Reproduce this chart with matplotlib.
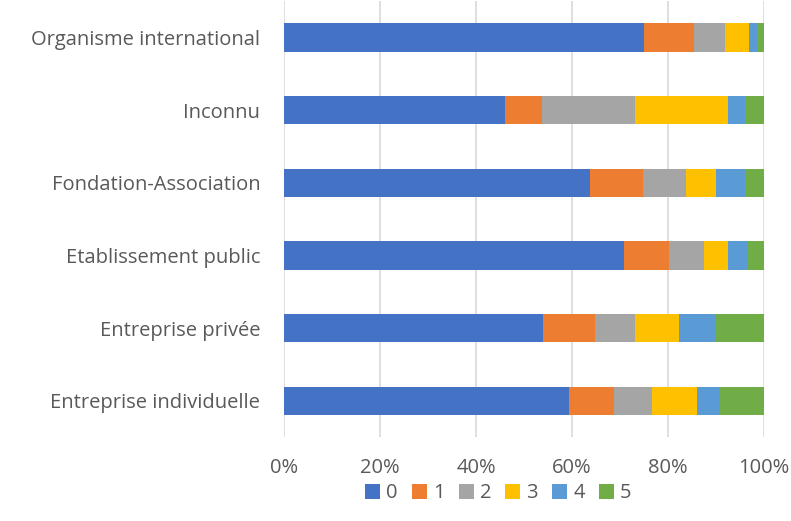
import numpy as np
import matplotlib.pyplot as plt

# categories from bottom to top
categories = ["Entreprise individuelle", "Entreprise privée", "Etablissement public",
              "Fondation-Association", "Inconnu", "Organisme international"]
series_names = ["0", "1", "2", "3", "4", "5"]

# share (%) of each series per category
s0 = [59.3, 54.0, 70.9, 63.7, 46.0, 75.0]
s1 = [9.4, 10.7, 9.3, 11.0, 7.8, 10.3]
s2 = [7.9, 8.4, 7.2, 9.1, 19.3, 6.5]
s3 = [9.5, 9.1, 5.1, 6.1, 19.3, 5.0]
s4 = [4.5, 7.7, 4.2, 6.1, 3.9, 1.7]
s5 = [9.4, 10.1, 3.3, 4.0, 3.7, 1.5]

colors = ["#4472C4", "#ED7D31", "#A5A5A5", "#FFC000", "#5B9BD5", "#70AD47"]
text_color = "#595959"

plt.rcParams['font.family'] = ['Open Sans', 'DejaVu Sans']

fig = plt.figure(figsize=(7.91, 5.21), dpi=100)
ax = fig.add_axes([0.359, 0.161, 0.607, 0.837])

y = np.arange(len(categories))
left = np.zeros(len(categories))
total = np.array(s0) + s1 + s2 + s3 + s4 + s5
for name, vals, c in zip(series_names, [s0, s1, s2, s3, s4, s5], colors):
    w = np.array(vals) / total * 100
    ax.barh(y, w, left=left, height=0.39, color=c, label=name, zorder=3)
    left += w

ax.set_xlim(0, 100)
ax.set_ylim(-0.5, len(categories) - 0.5)
ax.set_xticks(np.arange(0, 101, 20))
ax.set_xticklabels([f"{v}%" for v in range(0, 101, 20)])
ax.set_yticks(y)
ax.set_yticklabels(categories)
ax.grid(axis='x', color='#d9d9d9', linewidth=1.2, zorder=0)
for s in ax.spines.values():
    s.set_visible(False)
ax.tick_params(length=0, colors=text_color, labelsize=14.5)
ax.tick_params(axis='x', pad=15)
ax.tick_params(axis='y', pad=17)

fig.legend(loc='center', bbox_to_anchor=(0.63, 0.053), ncol=6, frameon=False,
           fontsize=14.5, handlelength=0.75, handleheight=0.75, handletextpad=0.3,
           columnspacing=0.7, labelcolor=text_color)

fig.savefig("out.png", dpi=100)
